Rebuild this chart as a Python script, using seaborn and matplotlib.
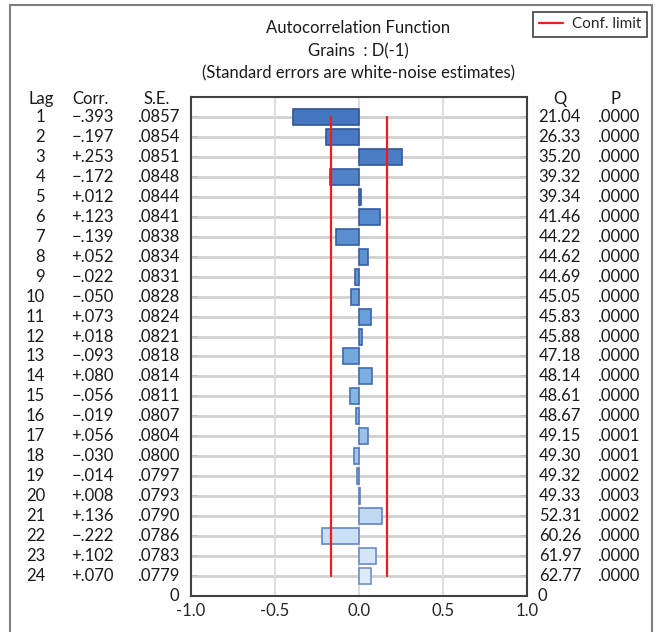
import matplotlib
matplotlib.use("Agg")
import matplotlib.pyplot as plt
import matplotlib.transforms as mtransforms
from matplotlib.lines import Line2D
from matplotlib.patches import Rectangle
import seaborn as sns
import pandas as pd

# Data
lags = list(range(1, 25))
corr = [-0.393, -0.197, 0.253, -0.172, 0.012, 0.123, -0.139, 0.052, -0.022, -0.050,
        0.073, 0.018, -0.093, 0.080, -0.056, -0.019, 0.056, -0.030, -0.014, 0.008,
        0.136, -0.222, 0.102, 0.070]
se = [".0857", ".0854", ".0851", ".0848", ".0844", ".0841", ".0838", ".0834", ".0831", ".0828",
      ".0824", ".0821", ".0818", ".0814", ".0811", ".0807", ".0804", ".0800", ".0797", ".0793",
      ".0790", ".0786", ".0783", ".0779"]
q_stat = ["21.04", "26.33", "35.20", "39.32", "39.34", "41.46", "44.22", "44.62", "44.69", "45.05",
          "45.83", "45.88", "47.18", "48.14", "48.61", "48.67", "49.15", "49.30", "49.32", "49.33",
          "52.31", "60.26", "61.97", "62.77"]
p_val = [".0000", ".0000", ".0000", ".0000", ".0000", ".0000", ".0000", ".0000", ".0000", ".0000",
         ".0000", ".0000", ".0000", ".0000", ".0000", ".0000", ".0001", ".0001", ".0002", ".0003",
         ".0002", ".0000", ".0000", ".0000"]
conf_limit = 0.165
x_ticks = [-1.0, -0.5, 0.0, 0.5, 1.0]

sns.set_style("white")
plt.rcParams["font.family"] = ["Lato", "DejaVu Sans"]
plt.rcParams["axes.unicode_minus"] = False

df = pd.DataFrame({"lag": lags, "corr": corr, "hue": [str(l) for l in lags]})
fills = sns.blend_palette(["#4475bf", "#6fa6dc", "#dcebf8"], len(lags))
edges = sns.blend_palette(["#2f5597", "#3a66b0", "#6f8fc8"], len(lags))

fig = plt.figure(figsize=(6.61, 6.32), dpi=100)
ax = fig.add_axes([191 / 661, 1 - 596 / 632, 336 / 661, 499 / 632])

sns.barplot(data=df, x="corr", y="lag", hue="hue", palette=fills, orient="h",
            native_scale=True, dodge=False, legend=False, width=0.8, saturation=1,
            linewidth=1.2, ax=ax, zorder=3)
for patch, ec in zip(ax.patches, edges):
    patch.set_edgecolor(ec)

# gridlines (drawn under the bars)
ax.hlines(lags, -1, 1, colors="#d0d0d0", linewidth=2, zorder=1)
ax.vlines(x_ticks[1:-1], 0, 25, colors="#dedede", linewidth=1.5, zorder=1)

# confidence limits
ax.plot([-conf_limit, -conf_limit], [lags[0], lags[-1]], color="#ee1c1c", lw=1.6, zorder=4)
ax.plot([conf_limit, conf_limit], [lags[0], lags[-1]], color="#ee1c1c", lw=1.6, zorder=4)

ax.set_xlim(-1, 1)
ax.set_ylim(25, 0)
ax.set_xticks(x_ticks)
ax.set_yticks(lags)
ax.set_yticklabels([])
ax.set_xlabel("")
ax.set_ylabel("")
fs = 12
tc = "#1a1a1a"
ax.set_xticklabels([f"{t:.1f}" for t in x_ticks], fontsize=fs, color="#262626")
ax.tick_params(axis="both", direction="in", length=5, width=1.3, color="#404040",
               top=True, right=True, bottom=True, left=True, pad=5)
for s in ax.spines.values():
    s.set_color("#404040")
    s.set_linewidth(1.5)

# table columns
tr = mtransforms.blended_transform_factory(fig.transFigure, ax.transData)
hy = 0.1
ax.text(41 / 661, hy, "Lag", transform=tr, ha="center", va="center", fontsize=fs, color=tc)
ax.text(90 / 661, hy, "Corr.", transform=tr, ha="center", va="center", fontsize=fs, color=tc)
ax.text(157 / 661, hy, "S.E.", transform=tr, ha="center", va="center", fontsize=fs, color=tc)
ax.text(560 / 661, hy, "Q", transform=tr, ha="center", va="center", fontsize=fs, color=tc)
ax.text(616 / 661, hy, "P", transform=tr, ha="center", va="center", fontsize=fs, color=tc)
for i, lag in enumerate(lags):
    c = corr[i]
    ctxt = ("+" if c >= 0 else "\u2212") + f"{abs(c):.3f}"[1:]
    ax.text(45 / 661, lag, str(lag), transform=tr, ha="right", va="center", fontsize=fs, color=tc)
    ax.text(114 / 661, lag, ctxt, transform=tr, ha="right", va="center", fontsize=fs, color=tc)
    ax.text(179 / 661, lag, se[i], transform=tr, ha="right", va="center", fontsize=fs, color=tc)
    ax.text(581 / 661, lag, q_stat[i], transform=tr, ha="right", va="center", fontsize=fs, color=tc)
    ax.text(639 / 661, lag, p_val[i], transform=tr, ha="right", va="center", fontsize=fs, color=tc)
ax.text(179 / 661, 25, "0", transform=tr, ha="right", va="center", fontsize=fs, color=tc)
ax.text(537 / 661, 25, "0", transform=tr, ha="left", va="center", fontsize=fs, color=tc)

# titles
tx = 358 / 661
fig.text(tx, 1 - 28 / 632, "Autocorrelation Function", ha="center", va="center", fontsize=fs, color=tc)
fig.text(tx, 1 - 51 / 632, "Grains  : D(-1)", ha="center", va="center", fontsize=fs, color=tc)
fig.text(tx, 1 - 73 / 632, "(Standard errors are white-noise estimates)", ha="center", va="center",
         fontsize=fs, color=tc)

# legend
handle = Line2D([], [], color="#ee1c1c", lw=1.6)
leg = fig.legend(handles=[handle], labels=["Conf. limit"], loc="upper right",
                 bbox_to_anchor=(647 / 661, 1 - 12 / 632), fancybox=False, framealpha=1,
                 edgecolor="#404040", fontsize=11, handlelength=1.6, handletextpad=0.6,
                 borderpad=0.35, borderaxespad=0)
leg.get_frame().set_linewidth(1.2)

# outer border
fig.patches.append(Rectangle((10 / 661, -0.05), 642 / 661, 1.05 - 5 / 632,
                             transform=fig.transFigure, fill=False, edgecolor="#7f7f7f",
                             lw=1.5, zorder=0))

fig.savefig("out.png", dpi=100)
